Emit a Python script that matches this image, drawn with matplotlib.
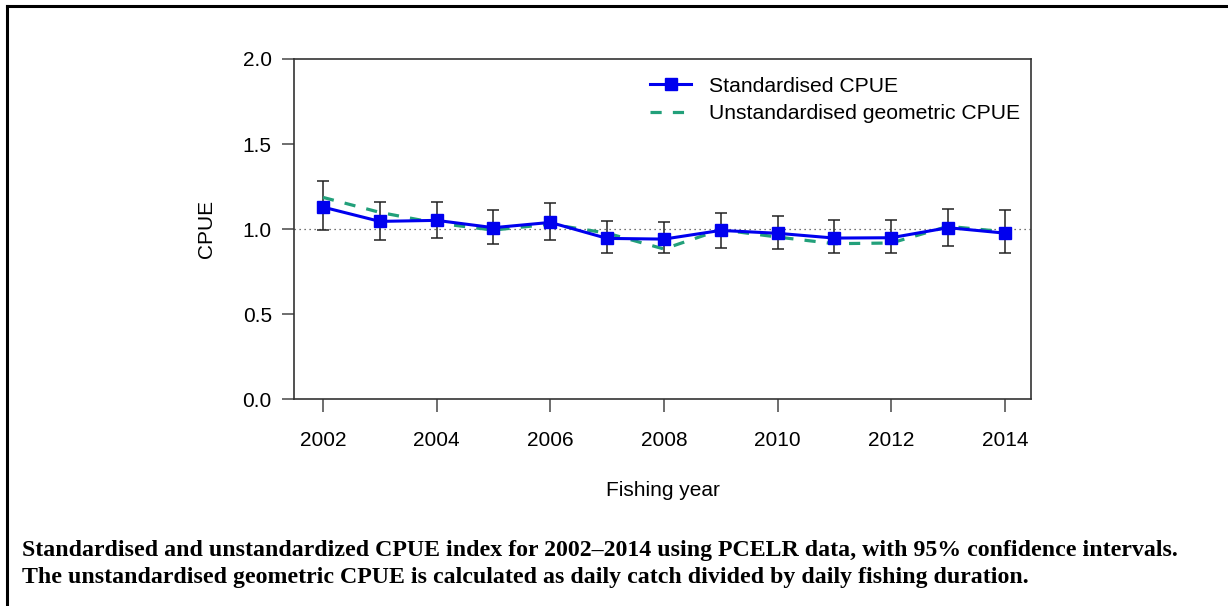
import matplotlib.pyplot as plt
from matplotlib.lines import Line2D

# --- data ---
years = [2002, 2003, 2004, 2005, 2006, 2007, 2008, 2009, 2010, 2011, 2012, 2013, 2014]
std_cpue = [1.130, 1.046, 1.052, 1.009, 1.040, 0.946, 0.942, 0.993, 0.976, 0.948, 0.950, 1.009, 0.977]
ci_upper = [1.284, 1.161, 1.161, 1.112, 1.152, 1.048, 1.042, 1.097, 1.075, 1.052, 1.052, 1.118, 1.112]
ci_lower = [0.995, 0.938, 0.950, 0.913, 0.938, 0.858, 0.858, 0.890, 0.886, 0.860, 0.860, 0.901, 0.860]
geo_cpue = [1.187, 1.099, 1.036, 0.995, 1.030, 0.977, 0.884, 0.997, 0.954, 0.915, 0.919, 1.017, 0.985]

x_ticks = [2002, 2004, 2006, 2008, 2010, 2012, 2014]
y_ticks = [0.0, 0.5, 1.0, 1.5, 2.0]

caption = ("Standardised and unstandardized CPUE index for 2002\u20132014 using PCELR data, with 95% confidence intervals.\n"
           "The unstandardised geometric CPUE is calculated as daily catch divided by daily fishing duration.")

plt.rcParams['font.family'] = ['Liberation Sans', 'DejaVu Sans']

fig = plt.figure(figsize=(12.28, 6.06), dpi=100)
ax = fig.add_axes([0.2394, 0.3408, 0.6002, 0.5619])

blue = '#0000ee'
green = '#22a07a'

# reference line at 1
ax.axhline(1.0, color='#444444', lw=0.9, ls=(0, (1, 3)), zorder=1)

# confidence intervals
yerr = [[m - lo for m, lo in zip(std_cpue, ci_lower)],
        [hi - m for m, hi in zip(std_cpue, ci_upper)]]
ax.errorbar(years, std_cpue, yerr=yerr, fmt='none', ecolor='#222222',
            elinewidth=1.1, capsize=4.5, capthick=1.1, zorder=2)

ax.plot(years, geo_cpue, color=green, lw=2.3, ls=(0, (3.5, 3.5)), zorder=3,
        label='Unstandardised geometric CPUE')
ax.plot(years, std_cpue, color=blue, lw=2.2, marker='s', markersize=8.5,
        zorder=4, label='Standardised CPUE')

ax.set_xlim(2001.49, 2014.46)
ax.set_ylim(0, 2.0)
ax.set_xticks(x_ticks)
ax.set_yticks(y_ticks)
ax.set_yticklabels([f'{v:.1f}' for v in y_ticks])
ax.tick_params(axis='both', direction='out', length=9, width=1.2,
               color='#555555', labelsize=15)
ax.tick_params(axis='x', pad=14)
ax.tick_params(axis='y', pad=7)
for s in ax.spines.values():
    s.set_linewidth(1.2)
    s.set_color('#333333')

ax.set_xlabel('Fishing year', fontsize=15, labelpad=22)
ax.set_ylabel('CPUE', fontsize=15, labelpad=19)

handles = [Line2D([], [], color=blue, lw=2.2, marker='s', markersize=8.5),
           Line2D([], [], color=green, lw=2.3, ls=(0, (3.5, 3.5)))]
ax.legend(handles, ['Standardised CPUE', 'Unstandardised geometric CPUE'],
          loc='upper left', bbox_to_anchor=(0.483, 0.948), frameon=False,
          fontsize=15.2, handlelength=1.95, handletextpad=0.85,
          labelspacing=0.4, borderpad=0, borderaxespad=0)

# page frame (left and top edges only)
fig.add_artist(Line2D([0.0057, 0.0057], [0, 0.9901], transform=fig.transFigure,
                      color='black', lw=2.2))
fig.add_artist(Line2D([0.0057, 1.0], [0.9901, 0.9901], transform=fig.transFigure,
                      color='black', lw=2.2))

fig.text(0.018, 0.0690, caption, family=['Liberation Serif', 'DejaVu Serif'],
         fontweight='bold', fontsize=17.2, va='center', ha='left', linespacing=1.36)

fig.savefig('out.png', dpi=100)
